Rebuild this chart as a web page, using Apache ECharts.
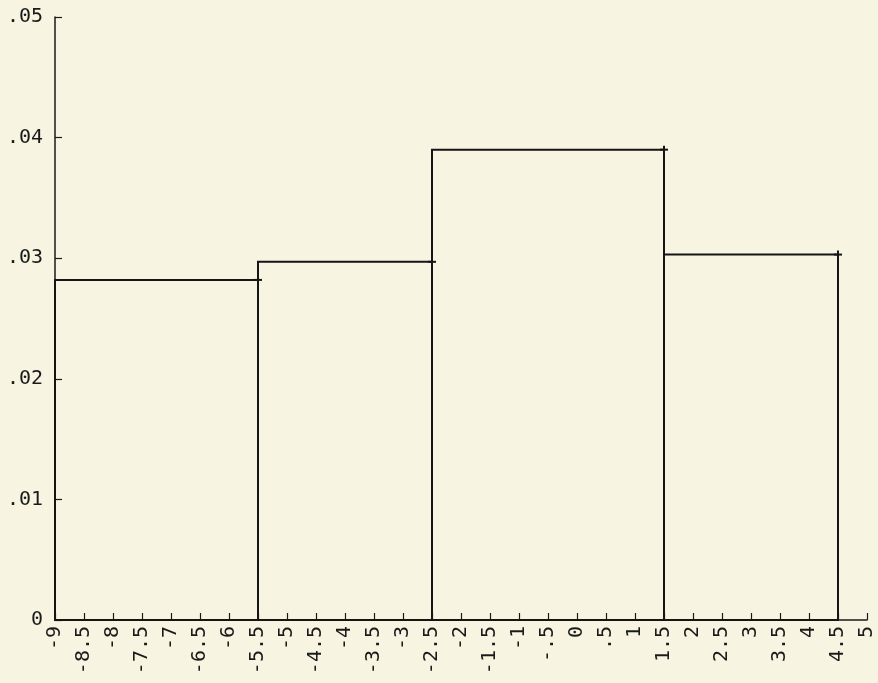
<!DOCTYPE html>
<html>
<head>
<meta charset="utf-8">
<script src="https://cdn.jsdelivr.net/npm/echarts@6/dist/echarts.min.js"></script>
<style>
html,body{margin:0;padding:0;background:#f7f5e1;}
#chart{width:878px;height:683px;}
</style>
</head>
<body>
<div id="chart"></div>
<script>
// Bin edges (x) and bin heights (density)
const binStarts = [-9, -5.5, -2.5, 1.5];
const binEnds = [-5.5, -2.5, 1.5, 4.5];
const densities = [0.0282, 0.0297, 0.0390, 0.0303];

const xMin = -9, xMax = 5, xStep = 0.5;
const yMin = 0, yMax = 0.05, yStep = 0.01;

function fmt(v) {
  let s = String(+(+v).toFixed(3));
  s = s.replace(/^(-?)0\./, '$1.');
  return s;
}

const data = binStarts.map((s, i) => [s, binEnds[i], densities[i]]);

const chart = echarts.init(document.getElementById('chart'), null, {renderer: 'canvas'});
const font = 'DejaVu Sans Mono';
chart.setOption({
  backgroundColor: '#f7f5e1',
  animation: false,
  grid: {left: 55, top: 17, right: 11, bottom: 63, containLabel: false},
  xAxis: {
    type: 'value', min: xMin, max: xMax, interval: xStep,
    splitLine: {show: false},
    axisLine: {onZero: false, lineStyle: {color: '#1a1a1a', width: 1.5}},
    axisTick: {inside: true, length: 7, lineStyle: {color: '#1a1a1a', width: 1.2}},
    axisLabel: {rotate: 90, margin: 6, fontFamily: font, fontSize: 20, color: '#1a1a1a', formatter: fmt, showMinLabel: true, showMaxLabel: true, hideOverlap: false}
  },
  yAxis: {
    type: 'value', min: yMin, max: yMax, interval: yStep,
    splitLine: {show: false},
    axisLine: {show: true, onZero: false, lineStyle: {color: '#1a1a1a', width: 1.5}},
    axisTick: {show: true, inside: true, length: 7, lineStyle: {color: '#1a1a1a', width: 1.2}},
    axisLabel: {margin: 12, fontFamily: font, fontSize: 20, color: '#1a1a1a', formatter: fmt}
  },
  series: [{
    type: 'custom',
    data: data,
    encode: {x: [0, 1], y: 2},
    renderItem: function (params, api) {
      const p0 = api.coord([api.value(0), api.value(2)]);
      const p1 = api.coord([api.value(1), 0]);
      const c = 4;
      return {
        type: 'group',
        children: [
          {type: 'rect', shape: {x: p0[0], y: p0[1], width: p1[0] - p0[0], height: p1[1] - p0[1]},
           style: {fill: 'none', stroke: '#151515', lineWidth: 2}},
          {type: 'line', shape: {x1: p1[0] - c, y1: p0[1], x2: p1[0] + c, y2: p0[1]},
           style: {stroke: '#151515', lineWidth: 2}},
          {type: 'line', shape: {x1: p1[0], y1: p0[1] - c, x2: p1[0], y2: p0[1] + c},
           style: {stroke: '#151515', lineWidth: 2}}
        ]
      };
    }
  }]
});
</script>
</body>
</html>
